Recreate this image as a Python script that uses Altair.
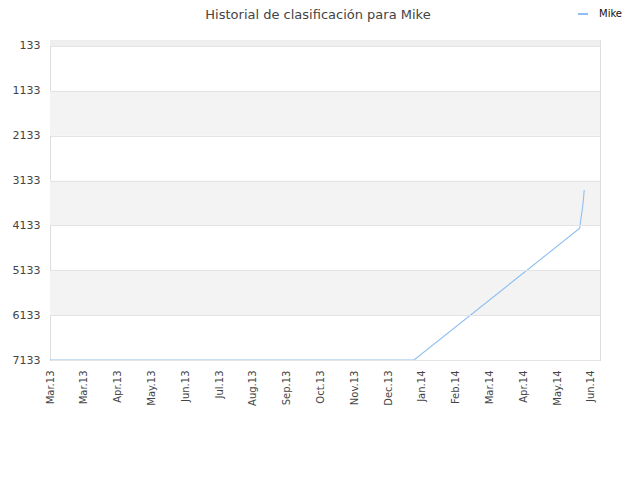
import altair as alt
import pandas as pd

# ---- data ----
title_text = "Historial de clasificación para Mike"
dates = ["2013-03-01", "2014-01-18", "2014-06-14", "2014-06-15",
         "2014-06-16", "2014-06-17", "2014-06-18"]
ranks = [7133, 7133, 4197, 3997, 3828, 3640, 3344]
series_name = "Mike"

y_ticks = [133, 1133, 2133, 3133, 4133, 5133, 6133, 7133]
band_lo = [0, 1133, 3133, 5133]
band_hi = [133, 2133, 4133, 6133]
band_col = ["#efefef", "#f3f3f3", "#f3f3f3", "#f3f3f3"]

tick_start = pd.Timestamp("2013-03-01")
x_ticks = [int((tick_start + pd.Timedelta(days=30 * k)).value // 10**6) for k in range(17)]

line_color = "#8fbff0"
font = "DejaVu Sans"

df = pd.DataFrame({"date": dates, "rank": ranks, "series": [series_name] * len(dates)})
bands = pd.DataFrame({"lo": band_lo, "hi": band_hi, "c": band_col})
title_df = pd.DataFrame({"t": [title_text]})

y_scale = alt.Scale(domain=[0, 7133], reverse=True, nice=False, zero=False)
x_scale = alt.Scale(type="utc",
                    domain=[alt.DateTime(year=2013, month=3, date=1, utc=True),
                            alt.DateTime(year=2014, month=7, date=2, utc=True)],
                    nice=False)

band_layer = alt.Chart(bands).mark_rect().encode(
    x=alt.value(0), x2=alt.value(550),
    y=alt.Y("lo:Q", scale=y_scale),
    y2="hi:Q",
    fill=alt.Fill("c:N", scale=None),
)

line_layer = alt.Chart(df).mark_line(strokeWidth=1.1).encode(
    x=alt.X("date:T", scale=x_scale, title=None,
            axis=alt.Axis(values=x_ticks, labelExpr="utcFormat(datum.value, '%b.%y')",
                          labelAngle=-90, labelAlign="right", labelBaseline="middle",
                          labelPadding=10, ticks=False, grid=False,
                          domainColor="#cccccc", labelFont=font, labelFontSize=10,
                          labelColor="#444444", labelOverlap=False)),
    y=alt.Y("rank:Q", scale=y_scale, title=None,
            axis=alt.Axis(values=y_ticks, format="d", ticks=False, labelPadding=10, grid=True,
                          gridColor="#e3e3e3", domain=False, zindex=1,
                          labelFont=font, labelFontSize=11, labelColor="#444444")),
    color=alt.Color("series:N", scale=alt.Scale(domain=[series_name], range=[line_color]),
                    legend=alt.Legend(title=None, orient="none", legendX=527, legendY=-32,
                                      symbolType="stroke", symbolStrokeWidth=2,
                                      symbolSize=100, labelFont=font, labelFontSize=10,
                                      labelOffset=10,
                                      labelColor="#111111", padding=0)),
)

title_layer = alt.Chart(title_df).mark_text(
    font=font, fontSize=13, color="#444444", align="center", baseline="middle"
).encode(text="t:N", x=alt.value(268), y=alt.value(-25))

chart = alt.layer(band_layer, line_layer, title_layer).properties(
    width=550, height=320,
    autosize=alt.AutoSizeParams(type="none"),
    padding={"left": 42, "top": 32, "right": 32, "bottom": 112},
).configure_view(stroke="#dddddd", strokeWidth=1)

chart.save("out.html", embed_options={"renderer": "svg", "actions": False})
